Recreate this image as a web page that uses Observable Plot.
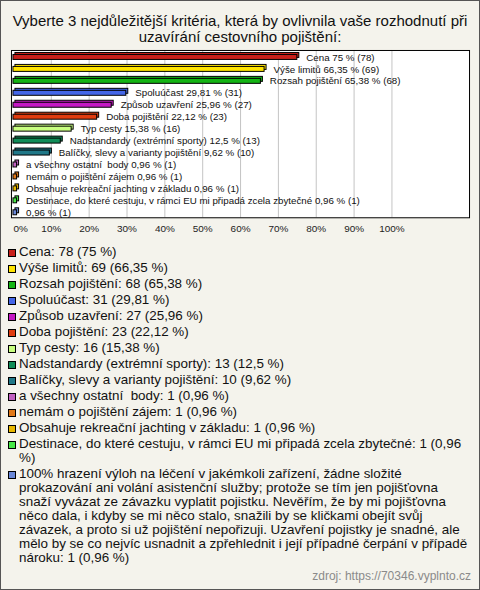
<!DOCTYPE html>
<html>
<head>
<meta charset="utf-8">
<script src="https://cdn.jsdelivr.net/npm/d3@7"></script>
<script src="https://cdn.jsdelivr.net/npm/@observablehq/plot@0.6"></script>
<style>
  html, body { margin: 0; padding: 0; }
  body { width: 480px; height: 590px; overflow: hidden; font-family: "Liberation Sans", Arial, sans-serif; }
  #page { position: relative; box-sizing: border-box; width: 480px; height: 590px; border: 1px solid #555; background: #f4f3ec; }
  #title { text-align: center; font-size: 15px; line-height: 16px; padding-top: 12px; height: 32px; color: #111; white-space: nowrap; }
  #chart svg { display: block; }
  #legend { padding-left: 7px; padding-top: 1px; font-size: 13.4px; line-height: 14px; color: #111; }
  .item { display: flex; align-items: flex-start; margin-bottom: 2px; }
  .sw { flex: none; width: 6px; height: 6px; border: 1px solid #000; margin-top: 4px; margin-right: 3px; }
  .txt { white-space: pre; }
  #footer { position: absolute; right: 8px; bottom: 6px; font-size: 12px; color: #8a8a8a; }
</style>
</head>
<body>
<div id="page">
  <div id="title">Vyberte 3 nejdůležitější kritéria, která by ovlivnila vaše rozhodnutí při<br>uzavírání cestovního pojištění:</div>
  <div id="chart"></div>
  <div id="legend"></div>
  <div id="footer">zdroj: https://70346.vyplnto.cz</div>
</div>
<script>
const categories = [
  "Cena",
  "Výše limitů",
  "Rozsah pojištění",
  "Spoluúčast",
  "Způsob uzavření",
  "Doba pojištění",
  "Typ cesty",
  "Nadstandardy (extrémní sporty)",
  "Balíčky, slevy a varianty pojištění",
  "a všechny ostatní  body",
  "nemám o pojištění zájem",
  "Obsahuje rekreační jachting v základu",
  "Destinace, do které cestuju, v rámci EU mi připadá zcela zbytečné",
  "100% hrazení výloh na léčení v jakémkoli zařízení, žádne složité prokazování ani volání asistenční služby; protože se tím jen pojišťovna snaží vyvázat ze závazku vyplatit pojistku. Nevěřím, že by mi pojišťovna něco dala, i kdyby se mi něco stalo, snažili by se kličkami obejít svůj závazek, a proto si už pojištění nepořizuji. Uzavření pojistky je snadné, ale mělo by se co nejvíc usnadnit a zpřehlednit i její případné čerpání v případě nároku"
];
const chartNames = categories.map((c, i) => i === 13 ? "" : c);
const counts = [78, 69, 68, 31, 27, 23, 16, 13, 10, 1, 1, 1, 1, 1];
const percents = [75, 66.35, 65.38, 29.81, 25.96, 22.12, 15.38, 12.5, 9.62, 0.96, 0.96, 0.96, 0.96, 0.96];
const colors = ["#c8201a", "#ffe400", "#14b414", "#4466e8", "#c418c4", "#e03c10", "#c8ff80", "#108c58", "#207888", "#c060c0", "#e07818", "#e8b800", "#48e848", "#6a88d8"];
const ticks = [0, 10, 20, 30, 40, 50, 60, 70, 80, 90, 100];
// legend line-wrap points (line starts with these words)
const legendWraps = {
  12: ["%)"],
  13: ["prokazování ani", "snaží vyvázat", "něco dala", "závazek, a proto", "mělo by", "nároku:"]
};

const fmt = v => String(v).replace(".", ",");
const data = categories.map((c, i) => ({
  cat: c,
  count: counts[i],
  pct: percents[i],
  color: colors[i],
  label: (chartNames[i] ? chartNames[i] + " " : "") + fmt(percents[i]) + " % (" + counts[i] + ")"
}));

const chart = Plot.plot({
  width: 480,
  height: 200,
  marginLeft: 10,
  marginRight: 10,
  marginTop: 5,
  marginBottom: 27,
  style: { background: "transparent", fontFamily: "'Liberation Sans', Arial, sans-serif" },
  x: { domain: [-0.526, 120.5], axis: null },
  y: { domain: categories, axis: null, padding: 0 },
  color: { type: "identity" },
  marks: [
    Plot.frame({ fill: "white" }),
    Plot.ruleX(ticks.filter(t => t > 0), { stroke: "#c4c4c4" }),
    Plot.barX(data, { x1: 0, x2: "pct", y: "cat", fill: "color", stroke: "#000", insetTop: 4.5, insetBottom: 2.5, dx: 2, dy: -2 }),
    Plot.barX(data, { x1: 0, x2: "pct", y: "cat", fill: "color", stroke: "#000", insetTop: 4.5, insetBottom: 2.5 }),
    Plot.text(data, { x: "pct", y: "cat", text: "label", textAnchor: "start", dx: 9, dy: 1, fontSize: 9.8, fill: "#111" }),
    Plot.text(ticks.filter(t => t > 0), { x: d => d, text: d => d + "%", frameAnchor: "bottom", dy: 14, fontSize: 10, fill: "#222" }),
    Plot.text(ticks.filter(t => t === 0), { x: d => d, text: d => d + "%", frameAnchor: "bottom", textAnchor: "start", dy: 14, fontSize: 10, fill: "#222" }),
    Plot.frame({ stroke: "#000" })
  ]
});
document.getElementById("chart").appendChild(chart);

const legend = document.getElementById("legend");
data.forEach((d, i) => {
  let s = d.cat + ": " + d.count + " (" + fmt(d.pct) + " %)";
  let pos = 0;
  (legendWraps[i] || []).forEach(w => {
    const k = s.indexOf(" " + w, pos);
    if (k >= 0) { s = s.slice(0, k) + "\n" + s.slice(k + 1); pos = k + 1; }
  });
  const item = document.createElement("div");
  item.className = "item";
  const sw = document.createElement("div");
  sw.className = "sw";
  sw.style.background = d.color;
  const t = document.createElement("div");
  t.className = "txt";
  t.textContent = s;
  item.appendChild(sw);
  item.appendChild(t);
  legend.appendChild(item);
});
</script>
</body>
</html>
